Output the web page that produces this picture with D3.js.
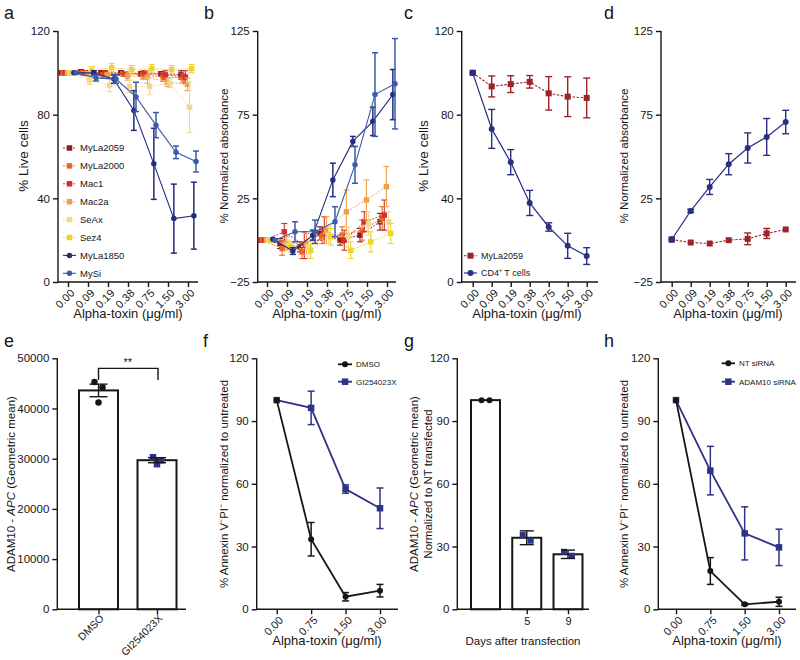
<!DOCTYPE html>
<html><head><meta charset="utf-8">
<script src="https://cdn.jsdelivr.net/npm/d3@7"></script>
<style>
body{margin:0;background:#fff}
svg text{font-family:"Liberation Sans",Arial,Helvetica,sans-serif;fill:#161616}
</style></head><body>
<svg id="chart" width="800" height="660"></svg>
<script>
// ---------------- DATA ----------------
const doses = ["0.00","0.09","0.19","0.38","0.75","1.50","3.00"];
const dosesShort = ["0.00","0.75","1.50","3.00"];
const cellLines = ["MyLa2059","MyLa2000","Mac1","Mac2a","SeAx","Sez4","MyLa1850","MySi"];
// panel a: % live cells (rows follow cellLines)
const liveMean = [
  [100,100.5,100,100,99.5,99.5,99],
  [100,100,99,99.5,99,98,97.5],
  [100,100,100,99.5,100,99,98],
  [100,99.5,99,98.5,98,95.5,94.5],
  [100,96.5,94,93.5,93.5,95,83.5],
  [100,101,102.5,101.5,102,101.5,102],
  [100,100,97,82,56.5,30.3,31.7],
  [100,97.6,97,88.5,75,62,57.6]
];
const liveErr = [
  [0,1,1,1,1,1,2],
  [0,1,1,1,2,2,2],
  [0,1,1,1,1,2,3],
  [0,1,1,2,3,2,3],
  [0,2,3,3,4,2,12],
  [0,2,2,2,2,2,2],
  [0,1,2,9.5,17,16.5,16],
  [0,1.5,2,7,6,3,5]
];
// panel b: % normalized absorbance
const absMean = [
  [0,-2,-4,4,0,3,11],
  [0,-5,-7,2,3,6,13],
  [0,5,-3,6,0,11,15],
  [0,-2,-2,6,17,24,32],
  [0,-3,-4,3,2,10,11],
  [0,-4,-6,2,-6,-1,4],
  [0.5,-6.5,3,36,59,71,87],
  [0,5,5,11,45,87,93.5]
];
const absErr = [
  [0,3,3,4,3,4,5],
  [0,4,4,4,5,6,7],
  [0,5,8,8,6,6,9],
  [0,4,6,8,13,12,12],
  [0,3,4,5,6,7,6],
  [0,3,5,5,5,6,6],
  [0,2,3,10,3,8.5,15],
  [0,6,7,9,11,25,27]
];
// panel c / d
const cSeries = ["MyLa2059","CD4⁺ T cells"];
const cLiveMyLa = [100,93.5,94.6,95.7,90.2,88.6,88];
const cLiveMyLaErr = [0,5,4,3,8,9.5,9.5];
const cLiveCD4 = [100,73.2,57.3,37.8,26.3,17.3,12.4];
const cLiveCD4Err = [0,9.3,6,6,2,6,4];
const dAbsMyLa = [0.4,-1.4,-2,0,0.8,4,6.4];
const dAbsMyLaErr = [0,0,0,0,3.5,3,0];
const dAbsCD4 = [0.4,17.5,31.8,45.4,55.1,61.7,70.6];
const dAbsCD4Err = [0,1,4.5,6.3,9,11,7];
// panel e
const eGroups = ["DMSO","GI254023X"];
const eMean = [43600,29700];
const eErr = [1250,500];
const eReps = [[45300,41200,44200],[30300,28900,29700]];
// panel f
const fSeries = ["DMSO","GI254023X"];
const fDMSO = [100,33.5,6,8.9];
const fDMSOErr = [0,8,2,3];
const fGI = [100,96.3,57.5,48.3];
const fGIErr = [0,8,2,9.7];
// panel g
const gDays = ["","5","9"];
const gMean = [100,34.2,26.3];
const gErr = [0,3.3,2];
const gReps = [[100,100],[35.5,32.8],[27.5,25.6]];
// panel h
const hSeries = ["NT siRNA","ADAM10 siRNA"];
const hNT = [100,18.3,2.4,3.6];
const hNTErr = [0,6.4,0.5,2.2];
const hADAM = [100,66.3,36.3,29.6];
const hADAMErr = [0,11.6,12.7,8.7];

// ---------------- STYLE ----------------
const INK = "#161616";
const NAVY = "#2d3386";
const lineColors = ["#8e1b20","#e8692e","#d42e2e","#f0a04a","#f3d98e","#f1d22f","#232c7e","#3a5ba9"];
const lineMarkers = ["sq","sq","sq","sq","sq","sq","ci","ci"];

const svg = d3.select("#chart");

function leftAxis(y, x0, ticks, fmt) {
  const g = svg.append("g").attr("transform", `translate(${x0},0)`)
    .call(d3.axisLeft(y).tickValues(ticks).tickSize(5).tickSizeOuter(0).tickPadding(3).tickFormat(fmt || d3.format("d")));
  g.attr("font-family", null).attr("font-size", null);
  g.select(".domain").remove();
  g.append("line").attr("y1", y.range()[0] + 0.7).attr("y2", y.range()[1]).attr("stroke", INK).attr("stroke-width", 1.4);
  g.selectAll(".tick line").attr("stroke", INK).attr("stroke-width", 1.4);
  g.selectAll(".tick text").style("font-size", "11.5px").attr("fill", INK);
  return g;
}
function bottomAxis(x, y0, xl, xr, rotate, hideEmpty, fs, shift) {
  const g = svg.append("g").attr("transform", `translate(0,${y0})`)
    .call(d3.axisBottom(x).tickSize(5).tickSizeOuter(0).tickPadding(3));
  g.attr("font-family", null).attr("font-size", null);
  g.select(".domain").remove();
  g.append("line").attr("x1", xl).attr("x2", xr).attr("stroke", INK).attr("stroke-width", 1.4);
  g.selectAll(".tick line").attr("stroke", INK).attr("stroke-width", 1.4);
  if (hideEmpty) g.selectAll(".tick").filter(d => d === "").remove();
  const t = g.selectAll(".tick text").style("font-size", (fs || 11) + "px").attr("fill", INK);
  if (rotate) {
    t.attr("x", 0).attr("y", 0).attr("dy", "0.35em").attr("text-anchor", "end")
     .attr("transform", shift || "translate(4,9) rotate(-45)");
  }
  return g;
}
function yTitle(lines, cx, cy, size) {
  const t = svg.append("text").attr("transform", `translate(${cx},${cy}) rotate(-90)`)
    .attr("text-anchor", "middle").style("font-size", size + "px");
  lines.forEach(p => {
    const s = t.append("tspan").text(p.t);
    if (p.i) s.attr("font-style", "italic");
  });
  return t;
}
function hText(txt, x, y, size, anchor) {
  return svg.append("text").attr("x", x).attr("y", y).attr("text-anchor", anchor || "middle")
    .style("font-size", size + "px").text(txt);
}
function letter(t, x, y) { hText(t, x, y, 18, "start"); }

function marker(g, type, x, y, s, color) {
  if (type === "sq") {
    g.append("rect").attr("x", x - s / 2).attr("y", y - s / 2).attr("width", s).attr("height", s).attr("fill", color);
  } else {
    g.append("circle").attr("cx", x).attr("cy", y).attr("r", s / 2).attr("fill", color);
  }
}
function drawSeries(g, xs, y, vals, errs, off, st) {
  const pts = xs.domain().map((k, i) => ({ x: xs(k) + off, v: vals[i], e: errs[i] }));
  g.append("path").attr("d", d3.line().x(d => d.x).y(d => y(d.v))(pts))
    .attr("fill", "none").attr("stroke", st.color).attr("stroke-width", st.lw)
    .attr("stroke-dasharray", st.dash || null);
  pts.filter(p => p.e > 0).forEach(p => {
    const lo = y(p.v - p.e), hi = y(p.v + p.e);
    g.append("line").attr("x1", p.x).attr("x2", p.x).attr("y1", lo).attr("y2", hi).attr("stroke", st.color).attr("stroke-width", st.ew);
    [lo, hi].forEach(yy => g.append("line").attr("x1", p.x - st.cap / 2).attr("x2", p.x + st.cap / 2)
      .attr("y1", yy).attr("y2", yy).attr("stroke", st.color).attr("stroke-width", st.ew));
  });
  pts.forEach(p => marker(g, st.mk, p.x, y(p.v), st.ms, st.color));
}
function legendItem(g, x1, x2, y, st, label, size) {
  g.append("line").attr("x1", x1).attr("x2", x2).attr("y1", y).attr("y2", y)
    .attr("stroke", st.color).attr("stroke-width", st.lw).attr("stroke-dasharray", st.dash || null);
  marker(g, st.mk, (x1 + x2) / 2, y, st.ms, st.color);
  g.append("text").attr("x", x2 + 4).attr("y", y).attr("dy", "0.35em").style("font-size", size + "px").text(label);
}
const multiStyle = i => ({
  color: lineColors[i], mk: lineMarkers[i],
  lw: i >= 6 ? 1.1 : 0.9, dash: i >= 6 ? null : "2,1.3",
  ew: i >= 6 ? 1.5 : 1.1, cap: 6, ms: 5.5
});
const ATX = "Alpha-toxin (μg/ml)";
const TX = 13;

// ---------------- PANEL a ----------------
{
  const x = d3.scalePoint().domain(doses).range([68, 188]);
  const y = d3.scaleLinear().domain([0, 120]).range([282, 31]);
  const dodge = d3.scalePoint().domain(cellLines).range([-7, 8]);
  leftAxis(y, 58, [0, 40, 80, 120]);
  bottomAxis(x, 282, 58, 198, true);
  const g = svg.append("g");
  cellLines.forEach((n, i) => drawSeries(g, x, y, liveMean[i], liveErr[i], dodge(n), multiStyle(i)));
  const lg = svg.append("g");
  const ly = d3.scalePoint().domain(cellLines).range([148, 273.3]);
  cellLines.forEach((n, i) => legendItem(lg, 63, 76, ly(n), multiStyle(i), n, 9.5));
  yTitle([{ t: "% Live cells" }], 28, 156, 13.5);
  hText(ATX, 128, 318, TX);
  letter("a", 4, 19);
}
// ---------------- PANEL b ----------------
{
  const x = d3.scalePoint().domain(doses).range([267, 387]);
  const y = d3.scaleLinear().domain([-25, 125]).range([282, 31]);
  const dodge = d3.scalePoint().domain(cellLines).range([-7, 8]);
  leftAxis(y, 257.7, [-25, 25, 75, 125]);
  bottomAxis(x, 282, 257.7, 396, true);
  const g = svg.append("g");
  cellLines.forEach((n, i) => drawSeries(g, x, y, absMean[i], absErr[i], dodge(n), multiStyle(i)));
  yTitle([{ t: "% Normalized absorbance" }], 228, 156, 11.5);
  hText(ATX, 327, 318, TX);
  letter("b", 204, 19);
}
// ---------------- PANEL c ----------------
const redDash = { color: "#9a2428", mk: "sq", lw: 1.1, dash: "2.5,1.5", ew: 1.4, cap: 7, ms: 6 };
const navySolid = { color: "#2a2f80", mk: "ci", lw: 1.2, dash: null, ew: 1.4, cap: 7, ms: 6 };
{
  const x = d3.scalePoint().domain(doses).range([472.7, 586.7]);
  const y = d3.scaleLinear().domain([0, 120]).range([282, 31]);
  leftAxis(y, 461.7, [0, 40, 80, 120]);
  bottomAxis(x, 282, 461.7, 598, true);
  const g = svg.append("g");
  drawSeries(g, x, y, cLiveMyLa, cLiveMyLaErr, 0, redDash);
  drawSeries(g, x, y, cLiveCD4, cLiveCD4Err, 0, navySolid);
  marker(g, "sq", x(doses[0]), y(cLiveCD4[0]), 6, "#2a2f80");
  const lg = svg.append("g");
  legendItem(lg, 464, 477, 255.7, redDash, cSeries[0], 9);
  legendItem(lg, 464, 477, 273, navySolid, cSeries[1], 9);
  yTitle([{ t: "% Live cells" }], 428, 156, 13.5);
  hText(ATX, 527, 318, TX);
  letter("c", 404, 19);
}
// ---------------- PANEL d ----------------
{
  const x = d3.scalePoint().domain(doses).range([671.7, 785.7]);
  const y = d3.scaleLinear().domain([-25, 125]).range([282, 31]);
  leftAxis(y, 661, [-25, 25, 75, 125]);
  bottomAxis(x, 282, 661, 796, true);
  const g = svg.append("g");
  drawSeries(g, x, y, dAbsMyLa, dAbsMyLaErr, 0, redDash);
  drawSeries(g, x, y, dAbsCD4, dAbsCD4Err, 0, navySolid);
  marker(g, "sq", x(doses[0]), y(dAbsCD4[0]), 6, "#2a2f80");
  yTitle([{ t: "% Normalized absorbance" }], 628, 156, 11.5);
  hText(ATX, 728, 318, TX);
  letter("d", 604, 19);
}
// ---------------- PANEL e ----------------
{
  const x = d3.scalePoint().domain(eGroups).range([98.5, 157]);
  const y = d3.scaleLinear().domain([0, 50000]).range([609.3, 358.3]);
  const bw = 39;
  const jitter = d3.scalePoint().domain([0, 1, 2]).range([-4, 4]);
  const g = svg.append("g");
  eGroups.forEach((k, i) => {
    g.append("rect").attr("x", x(k) - bw / 2).attr("y", y(eMean[i])).attr("width", bw)
      .attr("height", y(0) - y(eMean[i])).attr("fill", "#fff").attr("stroke", INK).attr("stroke-width", 2);
  });
  leftAxis(y, 57.3, d3.range(0, 50001, 10000));
  bottomAxis(x, 609.3, 57.3, 186, true, false, 10.5, "translate(3,7) rotate(-45)");
  eGroups.forEach((k, i) => {
    const c = i === 0 ? INK : NAVY;
    eReps[i].forEach((v, j) => marker(g, i === 0 ? "ci" : "sq", x(k) + jitter(j), y(v), 6.5, c));
    const lo = y(eMean[i] - eErr[i]), hi = y(eMean[i] + eErr[i]);
    g.append("line").attr("x1", x(k)).attr("x2", x(k)).attr("y1", lo).attr("y2", hi).attr("stroke", INK).attr("stroke-width", 1.4);
    [lo, hi].forEach(yy => g.append("line").attr("x1", x(k) - 9).attr("x2", x(k) + 9).attr("y1", yy).attr("y2", yy).attr("stroke", INK).attr("stroke-width", 1.4));
  });
  const top = y(48000);
  g.append("path").attr("d", `M${x(eGroups[0])},${top + 11.7}V${top}H${x(eGroups[1]) + 1}V${top + 11.7}`)
    .attr("fill", "none").attr("stroke", INK).attr("stroke-width", 1.4);
  hText("**", (x(eGroups[0]) + x(eGroups[1])) / 2, top - 2, 11);
  yTitle([{ t: "ADAM10 - " }, { t: "APC", i: true }, { t: " (Geometric mean)" }], 15, 484, 11.5);
  letter("e", 4, 347);
}
// ---------------- PANEL f ----------------
const blackLine = { color: INK, mk: "ci", lw: 1.8, dash: null, ew: 1.5, cap: 7, ms: 6 };
const navyLine = { color: NAVY, mk: "sq", lw: 1.8, dash: null, ew: 1.5, cap: 7, ms: 6.5 };
{
  const x = d3.scalePoint().domain(dosesShort).range([276.7, 380]);
  const y = d3.scaleLinear().domain([0, 120]).range([609.3, 358.3]);
  leftAxis(y, 256.7, [0, 30, 60, 90, 120]);
  bottomAxis(x, 609.3, 256.7, 398, true);
  const g = svg.append("g");
  drawSeries(g, x, y, fGI, fGIErr, 0, navyLine);
  drawSeries(g, x, y, fDMSO, fDMSOErr, 0, blackLine);
  const lg = svg.append("g");
  legendItem(lg, 338, 352, 364.3, blackLine, fSeries[0], 8);
  legendItem(lg, 338, 352, 381.7, navyLine, fSeries[1], 8);
  yTitle([{ t: "% Annexin V⁻PI⁻ normalized to untreated" }], 228, 484, 11.5);
  hText(ATX, 327, 645, TX);
  letter("f", 203, 347);
}
// ---------------- PANEL g ----------------
{
  const x = d3.scalePoint().domain(gDays).range([485.5, 568]);
  const y = d3.scaleLinear().domain([0, 120]).range([609.3, 358.3]);
  const bw = 29;
  const jitter = d3.scalePoint().domain([0, 1]).range([-4, 4]);
  const g = svg.append("g");
  gDays.forEach((k, i) => {
    g.append("rect").attr("x", x(k) - bw / 2).attr("y", y(gMean[i])).attr("width", bw)
      .attr("height", y(0) - y(gMean[i])).attr("fill", "#fff").attr("stroke", INK).attr("stroke-width", 2);
  });
  leftAxis(y, 457.3, [0, 30, 60, 90, 120]);
  bottomAxis(x, 609.3, 457.3, 589, false, true);
  gDays.forEach((k, i) => {
    const c = i === 0 ? INK : NAVY;
    gReps[i].forEach((v, j) => marker(g, i === 0 ? "ci" : "sq", x(k) + jitter(j), y(v), 6, c));
    if (gErr[i] > 0) {
      const lo = y(gMean[i] - gErr[i]), hi = y(gMean[i] + gErr[i]);
      g.append("line").attr("x1", x(k)).attr("x2", x(k)).attr("y1", lo).attr("y2", hi).attr("stroke", INK).attr("stroke-width", 1.4);
      [lo, hi].forEach(yy => g.append("line").attr("x1", x(k) - 7).attr("x2", x(k) + 7).attr("y1", yy).attr("y2", yy).attr("stroke", INK).attr("stroke-width", 1.4));
    }
  });
  yTitle([{ t: "ADAM10 - " }, { t: "APC", i: true }, { t: " (Geometric mean)" }], 418, 484, 11.5);
  yTitle([{ t: "Normalized to NT transfected" }], 432, 484, 11.5);
  hText("Days after transfection", 523, 645, 11.5);
  letter("g", 404, 347);
}
// ---------------- PANEL h ----------------
{
  const x = d3.scalePoint().domain(dosesShort).range([676, 779]);
  const y = d3.scaleLinear().domain([0, 120]).range([609.3, 358.3]);
  leftAxis(y, 658.3, [0, 30, 60, 90, 120]);
  bottomAxis(x, 609.3, 658.3, 796, true);
  const g = svg.append("g");
  drawSeries(g, x, y, hADAM, hADAMErr, 0, navyLine);
  drawSeries(g, x, y, hNT, hNTErr, 0, blackLine);
  const lg = svg.append("g");
  legendItem(lg, 721.7, 735, 363.3, blackLine, hSeries[0], 8);
  legendItem(lg, 721.7, 735, 381.7, navyLine, hSeries[1], 8);
  yTitle([{ t: "% Annexin V⁻PI⁻ normalized to untreated" }], 628, 484, 11.5);
  hText(ATX, 727, 645, TX);
  letter("h", 604, 347);
}
</script>
</body></html>
